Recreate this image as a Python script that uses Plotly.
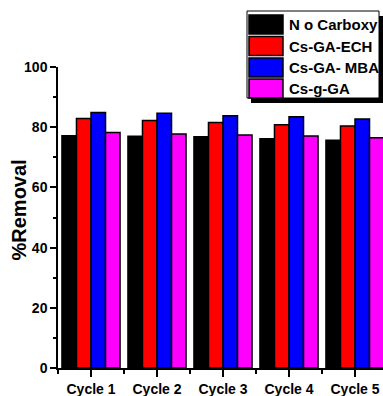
import plotly.graph_objects as go

categories = ["Cycle 1", "Cycle 2", "Cycle 3", "Cycle 4", "Cycle 5"]
series_names = ["N o Carboxy", "Cs-GA-ECH", "Cs-GA- MBA", "Cs-g-GA"]
no_carboxy = [77.2, 77.0, 76.8, 76.2, 75.7]
cs_ga_ech = [82.9, 82.2, 81.6, 80.8, 80.4]
cs_ga_mba = [84.9, 84.6, 83.8, 83.5, 82.7]
cs_g_ga = [78.2, 77.7, 77.4, 77.1, 76.5]
series_values = [no_carboxy, cs_ga_ech, cs_ga_mba, cs_g_ga]
colors = ["#000000", "#ff0000", "#0000ff", "#ff00ff"]
y_ticks = [0, 20, 40, 60, 80, 100]
y_title = "%Removal"

W, H = 383, 396
ML, MR, MT, MB = 58, 0, 67, 28
PW, PH = W - ML - MR, H - MT - MB
FONT = "Arial, Liberation Sans, sans-serif"

xpos = [i + 1 for i in range(len(categories))]

fig = go.Figure()
for name, vals, col in zip(series_names, series_values, colors):
    fig.add_trace(go.Bar(
        x=xpos, y=vals, name=name,
        marker=dict(color=col, line=dict(color="black", width=1.5)),
        showlegend=False,
    ))

fig.update_layout(
    width=W, height=H,
    margin=dict(l=ML, r=MR, t=MT, b=MB),
    paper_bgcolor="white", plot_bgcolor="white",
    barmode="group", bargap=0.12, bargroupgap=0,
    font=dict(family=FONT, color="black"),
)
fig.update_xaxes(
    range=[0.5, 0.5 + PW / 66.0],
    tickvals=xpos, ticktext=categories,
    showgrid=False, zeroline=False,
    showline=True, linecolor="black", linewidth=1.5,
    ticks="outside", ticklen=7, tickwidth=1.5, tickcolor="black",
    tickfont=dict(family=FONT, size=14, color="black", weight="bold"),
    minor=dict(tickvals=[i + 0.5 for i in range(len(categories) + 1)],
               ticks="outside", ticklen=4, tickwidth=1.5, tickcolor="black"),
)
fig.update_yaxes(
    range=[0, 100],
    tickvals=y_ticks,
    showgrid=False, zeroline=False,
    showline=True, linecolor="black", linewidth=1.5,
    ticks="outside", ticklen=6, tickwidth=1.5, tickcolor="black",
    tickfont=dict(family=FONT, size=14, color="black", weight="bold"),
    minor=dict(dtick=10, tick0=0, ticks="outside", ticklen=3,
               tickwidth=1.5, tickcolor="black"),
)

def px(x):
    return (x - ML) / PW

def py(y):
    return (H - MB - y) / PH

# y-axis title
fig.add_annotation(xref="paper", yref="paper", x=px(18.5), y=py(210),
                   xanchor="center", yanchor="middle", showarrow=False,
                   text=y_title, textangle=-90,
                   font=dict(family=FONT, size=20, color="black", weight="bold"))

# custom legend box with shadow
bx0, bx1, by0, by1 = 247, 379, 11, 98
fig.add_shape(type="rect", xref="paper", yref="paper",
              x0=px(bx0 + 4), x1=px(bx1 + 4), y0=py(by0 + 5), y1=py(by1 + 5),
              fillcolor="black", line=dict(width=0), layer="above")
fig.add_shape(type="rect", xref="paper", yref="paper",
              x0=px(bx0), x1=px(bx1), y0=py(by0), y1=py(by1),
              fillcolor="white", line=dict(color="black", width=1), layer="above")
row_c = [24.5, 46, 67.5, 88.5]
for name, col, rc in zip(series_names, colors, row_c):
    fig.add_shape(type="rect", xref="paper", yref="paper",
                  x0=px(249), x1=px(283), y0=py(rc - 9.5), y1=py(rc + 9.5),
                  fillcolor=col, line=dict(color="black", width=1.5), layer="above")
    fig.add_annotation(xref="paper", yref="paper", x=px(287), y=py(rc),
                       xanchor="left", yanchor="middle", showarrow=False,
                       text=name,
                       font=dict(family=FONT, size=15, color="black", weight="bold"))

fig.write_html("out.html", config={"displayModeBar": False},
               post_script="document.body.style.margin='0';document.body.style.overflow='hidden';")
